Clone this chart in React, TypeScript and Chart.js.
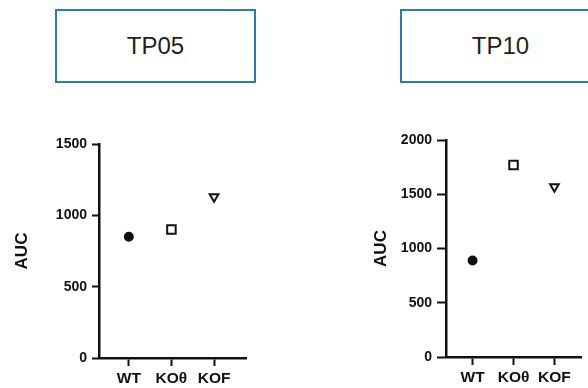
import React, { useEffect, useRef } from 'react';
import { Chart, registerables } from 'chart.js';

Chart.register(...registerables);

const categories = ['WT', 'KOθ', 'KOF'];
const tp05Values = [850, 900, 1130];
const tp10Values = [890, 1770, 1570];
const tp05Max = 1500;
const tp10Max = 2000;
const yStep = 500;
const panelTitles = ['TP05', 'TP10'];
const axisTitle = 'AUC';
const pointStyles = ['circle', 'rect', 'triangle'];
const pointRotations = [0, 0, 180];
const pointFills = ['#111111', '#ffffff', '#ffffff'];
const pointRadii = [4, 6, 5];

const INK = '#111111';
const FAMILY = "'Liberation Sans', Arial, sans-serif";
const tickFont = { family: FAMILY, weight: 'bold' as const, size: 14 };
const xTickFont = { family: FAMILY, weight: 'bold' as const, size: 15.5 };
const titleFont = { family: FAMILY, weight: 'bold' as const, size: 17 };

type PanelCfg = {
  values: number[];
  yMax: number;
  xMin: number;
  xMax: number;
  yWidth: number;
  xHeight: number;
  padTop: number;
  padRight: number;
  titlePad: number;
  yTickLen: number;
  yTickPad: number;
  xTickLen: number;
};

function ChartPanel({ cfg, width, height, style }: { cfg: PanelCfg; width: number; height: number; style: React.CSSProperties }) {
  const ref = useRef<HTMLCanvasElement | null>(null);
  useEffect(() => {
    if (!ref.current) return;
    const chart = new Chart(ref.current, {
      type: 'scatter',
      data: {
        datasets: [
          {
            data: cfg.values.map((v, i) => ({ x: i, y: v })),
            showLine: false,
            pointStyle: pointStyles as any,
            pointRotation: pointRotations,
            pointRadius: pointRadii,
            pointHoverRadius: pointRadii,
            pointBackgroundColor: pointFills,
            pointBorderColor: INK,
            pointBorderWidth: 2,
          } as any,
        ],
      },
      options: {
        responsive: false,
        animation: false,
        devicePixelRatio: 1,
        layout: { padding: { top: cfg.padTop, right: cfg.padRight, left: 0, bottom: 0 } },
        plugins: { legend: { display: false }, tooltip: { enabled: false }, title: { display: false } },
        scales: {
          x: {
            type: 'linear',
            min: cfg.xMin,
            max: cfg.xMax,
            bounds: 'data',
            afterBuildTicks: (s: any) => {
              s.ticks = categories.map((_, i) => ({ value: i }));
            },
            afterFit: (s: any) => {
              s.height = cfg.xHeight;
            },
            ticks: {
              callback: (v: any) => categories[v as number] ?? '',
              font: xTickFont,
              color: INK,
              padding: 3,
              maxRotation: 0,
              autoSkip: false,
            },
            grid: { drawOnChartArea: false, tickLength: cfg.xTickLen, tickColor: INK, tickWidth: 2 },
            border: { display: true, color: INK, width: 2.5 },
          },
          y: {
            type: 'linear',
            min: 0,
            max: cfg.yMax,
            afterFit: (s: any) => {
              s.width = cfg.yWidth;
            },
            ticks: {
              stepSize: yStep,
              font: tickFont,
              color: INK,
              padding: cfg.yTickPad,
              callback: (v: any) => String(v),
            },
            grid: { drawOnChartArea: false, tickLength: cfg.yTickLen, tickColor: INK, tickWidth: 2 },
            border: { display: true, color: INK, width: 2.5 },
            title: { display: true, text: axisTitle, font: titleFont, color: INK, padding: { top: cfg.titlePad, bottom: 0 } },
          },
        },
      } as any,
    });
    return () => chart.destroy();
  }, [cfg]);
  return <canvas ref={ref} width={width} height={height} style={{ position: 'absolute', width, height, ...style }} />;
}

const leftCfg: PanelCfg = {
  values: tp05Values,
  yMax: tp05Max,
  xMin: -0.7,
  xMax: 2.75,
  yWidth: 99,
  xHeight: 30,
  padTop: 24,
  padRight: 14,
  titlePad: 12,
  yTickLen: 7,
  yTickPad: 5,
  xTickLen: 8,
};

const rightCfg: PanelCfg = {
  values: tp10Values,
  yMax: tp10Max,
  xMin: -0.65,
  xMax: 2.65,
  yWidth: 116,
  xHeight: 31,
  padTop: 20,
  padRight: 0,
  titlePad: 41,
  yTickLen: 9,
  yTickPad: 5,
  xTickLen: 8,
};

function TitleBox({ text, left }: { text: string; left: number }) {
  return (
    <div
      style={{
        position: 'absolute',
        left,
        top: 9,
        width: 201,
        height: 74,
        boxSizing: 'border-box',
        border: '2.5px solid #2a7ea8',
        display: 'flex',
        alignItems: 'center',
        justifyContent: 'center',
        fontFamily: FAMILY,
        fontSize: 24,
        color: '#1e1e1e',
        background: '#fff',
      }}
    >
      {text}
    </div>
  );
}

export default function App() {
  useEffect(() => {
    document.body.style.margin = '0';
  }, []);
  return (
    <div style={{ position: 'fixed', left: 0, top: 0, width: 588, height: 388, overflow: 'hidden', background: '#fff' }}>
      <TitleBox text={panelTitles[0]} left={55} />
      <TitleBox text={panelTitles[1]} left={400} />
      <ChartPanel cfg={leftCfg} width={260} height={268} style={{ left: 0, top: 120 }} />
      <ChartPanel cfg={rightCfg} width={259} height={268} style={{ left: 330, top: 120 }} />
    </div>
  );
}
